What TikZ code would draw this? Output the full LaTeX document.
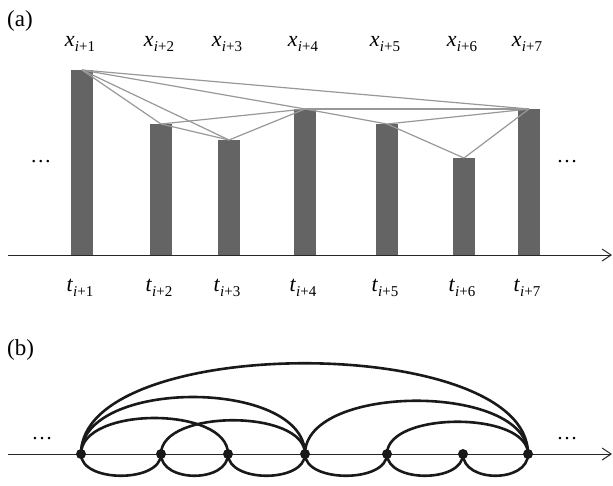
\documentclass[tikz,border=0pt]{standalone}
\usepackage{fontspec}
\setmainfont{Liberation Serif}
\usetikzlibrary{arrows.meta}
\definecolor{barc}{RGB}{100,100,100}
\definecolor{edgec}{RGB}{152,152,152}
\newcommand{\ilab}[2]{{\fontsize{22}{22}\selectfont\itshape #1}\kern0.3pt\raisebox{-5.5pt}{\fontsize{15}{15}\selectfont\itshape i\/\upshape +#2}}
\tikzset{
  axisline/.style={line width=1pt, draw=black!85, -{Straight Barb[length=9pt,width=12pt,line width=1pt]}},
  visedge/.style={draw=edgec, line width=1.2pt},
  bar/.style={fill=barc},
  lab/.style={anchor=base, inner sep=0pt},
  dotsl/.style={anchor=base, inner sep=0pt, font=\fontsize{21}{21}\selectfont},
  panel/.style={anchor=base west, inner sep=0pt, font=\fontsize{23}{23}\selectfont},
  arcl/.style={line width=2.6pt, draw=black!90},
  vnode/.style={circle, fill=black!90, inner sep=0pt, minimum size=10pt}
}
\begin{document}
\begin{tikzpicture}[x=1pt,y=1pt]
\useasboundingbox (0,0) rectangle (613,-485);
% ---------- (a) ----------
\node[panel] (pa) at (7,-26) {(a)};
\foreach \c/\t [count=\i] in {82/70,161/124,229/140,305/109,387/124,464/158,529/109}{
  \fill[bar] (\c-11,-\t) rectangle (\c+11,-255);
  \coordinate (b\i) at (\c,-\t);
  \node[lab] (x\i) at (\c-2,-46) {\ilab{x}{\i}};
  \node[lab] (t\i) at (\c-2,-291) {\ilab{t}{\i}};
}
\coordinate (ax0) at (8,-255);
\coordinate (ax1) at (612,-255);
\draw[axisline] (ax0) -- (ax1);
\foreach \a/\b in {1/2,1/3,1/4,1/7,2/3,2/4,3/4,4/5,4/7,5/6,5/7,6/7}
  \draw[visedge] (b\a) -- (b\b);
\node[dotsl] (dla) at (41,-162) {…};
\node[dotsl] (dra) at (567,-162) {…};
% ---------- (b) ----------
\node[panel] (pb) at (7,-355) {(b)};
\coordinate (bx0) at (8,-454);
\coordinate (bx1) at (612,-454);
\draw[axisline] (bx0) -- (bx1);
\foreach \c [count=\i] in {81,161,228,305,387,463,528}
  \coordinate (n\i) at (\c,-454);
% arcs above
\foreach \a/\b/\d in {1/3/48,2/4/45,1/4/76,4/7/71,5/7/43,1/7/121}
  \draw[arcl] (n\a) to[out=90,in=90,distance=\d pt] (n\b);
% arcs below
\foreach \a/\b in {1/2,2/3,3/4,4/5,5/6,6/7}
  \draw[arcl] (n\a) to[out=-90,in=-90,distance=29pt] (n\b);
\foreach \i in {1,...,7}
  \node[vnode] (v\i) at (n\i) {};
\node[dotsl] (dlb) at (42,-439) {…};
\node[dotsl] (drb) at (567,-439) {…};
\end{tikzpicture}
\end{document}
